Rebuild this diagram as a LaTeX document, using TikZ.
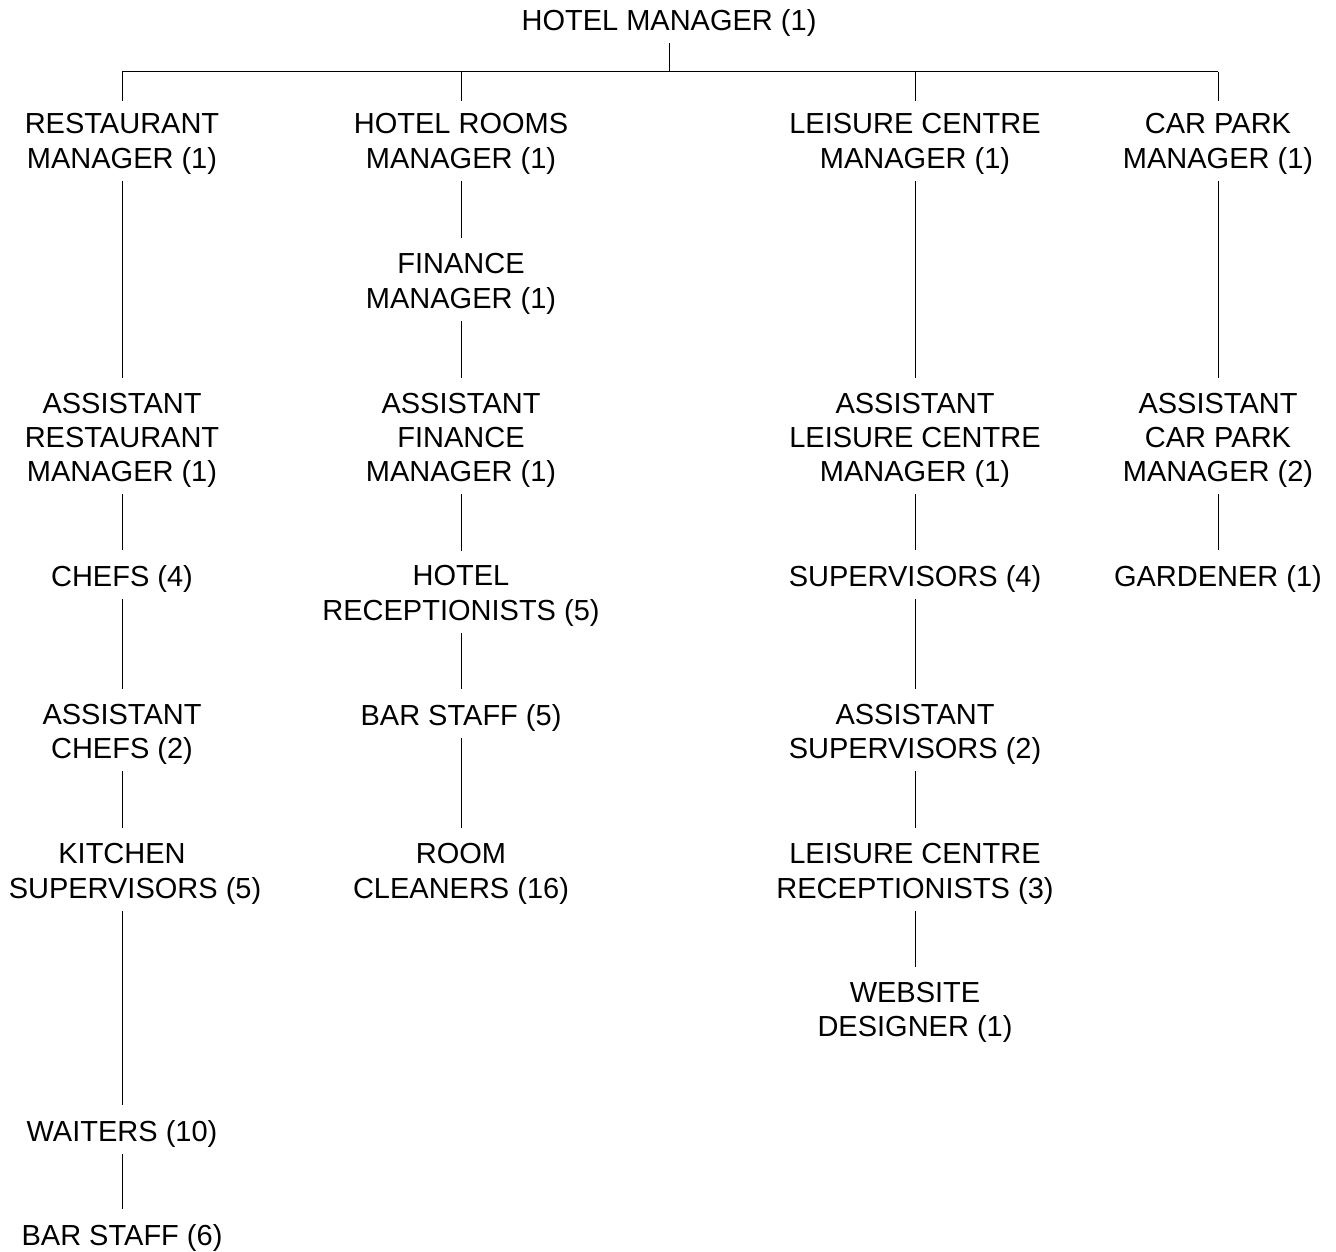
\documentclass[tikz,border=0pt]{standalone}
\usepackage{fontspec}
\setmainfont{Liberation Sans}
\begin{document}
\begin{tikzpicture}[x=1pt,y=-1pt,
  lbl/.style={anchor=north, inner sep=0pt, align=center, text=black,
    font=\fontsize{29}{34.3}\selectfont},
  link/.style={draw=black, line width=1pt, shorten <=6.5pt, shorten >=15pt},
  bus/.style={draw=black, line width=1pt}]
\useasboundingbox (0,0) rectangle (1336,1252);

% top
\node[lbl] (hm) at (669,9.3) {HOTEL MANAGER (1)};

% restaurant column
\node[lbl] (rm)      at (122,113.3)  {RESTAURANT\\MANAGER (1)};
\node[lbl] (arm)     at (122,392.7)  {ASSISTANT\\RESTAURANT\\MANAGER (1)};
\node[lbl] (chefs)   at (122,565)    {CHEFS (4)};
\node[lbl] (achefs)  at (122,704)    {ASSISTANT\\CHEFS (2)};
\node[lbl] (ksup)    at (122,843.3)  {KITCHEN\\\hspace*{26pt}SUPERVISORS (5)};
\node[lbl] (waiters) at (122,1120)   {WAITERS (10)};
\node[lbl] (barsix)  at (122,1224)   {BAR STAFF (6)};

% hotel rooms column
\node[lbl] (hr)      at (461,113.3)  {HOTEL ROOMS\\MANAGER (1)};
\node[lbl] (fm)      at (461,253.3)  {FINANCE\\MANAGER (1)};
\node[lbl] (afm)     at (461,392.7)  {ASSISTANT\\FINANCE\\MANAGER (1)};
\node[lbl] (hrec)    at (461,565.5)  {HOTEL\\RECEPTIONISTS (5)};
\node[lbl] (barfive) at (461,704)    {BAR STAFF (5)};
\node[lbl] (rc)      at (461,843.3)  {ROOM\\CLEANERS (16)};

% leisure centre column
\node[lbl] (lc)      at (915,113.3)  {LEISURE CENTRE\\MANAGER (1)};
\node[lbl] (alc)     at (915,392.7)  {ASSISTANT\\LEISURE CENTRE\\MANAGER (1)};
\node[lbl] (supf)    at (915,565)    {SUPERVISORS (4)};
\node[lbl] (asup)    at (915,704)    {ASSISTANT\\SUPERVISORS (2)};
\node[lbl] (lcr)     at (915,843.3)  {LEISURE CENTRE\\RECEPTIONISTS (3)};
\node[lbl] (wd)      at (915,981.7)  {WEBSITE\\DESIGNER (1)};

% car park column
\node[lbl] (cp)      at (1218,113.3) {CAR PARK\\MANAGER (1)};
\node[lbl] (acp)     at (1218,392.7) {ASSISTANT\\CAR PARK\\MANAGER (2)};
\node[lbl] (gard)    at (1218,565)   {GARDENER (1)};

% bus
\coordinate (busL) at (122,71.7);
\coordinate (busR) at (1218,71.7);
\draw[bus] (busL) -- (busR);
\draw[bus, shorten <=6.5pt] (hm.south) -- (hm.south |- busL);
\foreach \n in {rm,hr,lc,cp}
  \draw[bus, shorten >=12.3pt] (\n.north |- busL) -- (\n.north);

% links
\foreach \a/\b in {rm/arm, arm/chefs, chefs/achefs, achefs/ksup, ksup/waiters, waiters/barsix,
                   hr/fm, fm/afm, afm/hrec, hrec/barfive, barfive/rc,
                   lc/alc, alc/supf, supf/asup, asup/lcr, lcr/wd,
                   cp/acp, acp/gard}
  \path[link] (\a.south) -- (\b.north);
\end{tikzpicture}
\end{document}
